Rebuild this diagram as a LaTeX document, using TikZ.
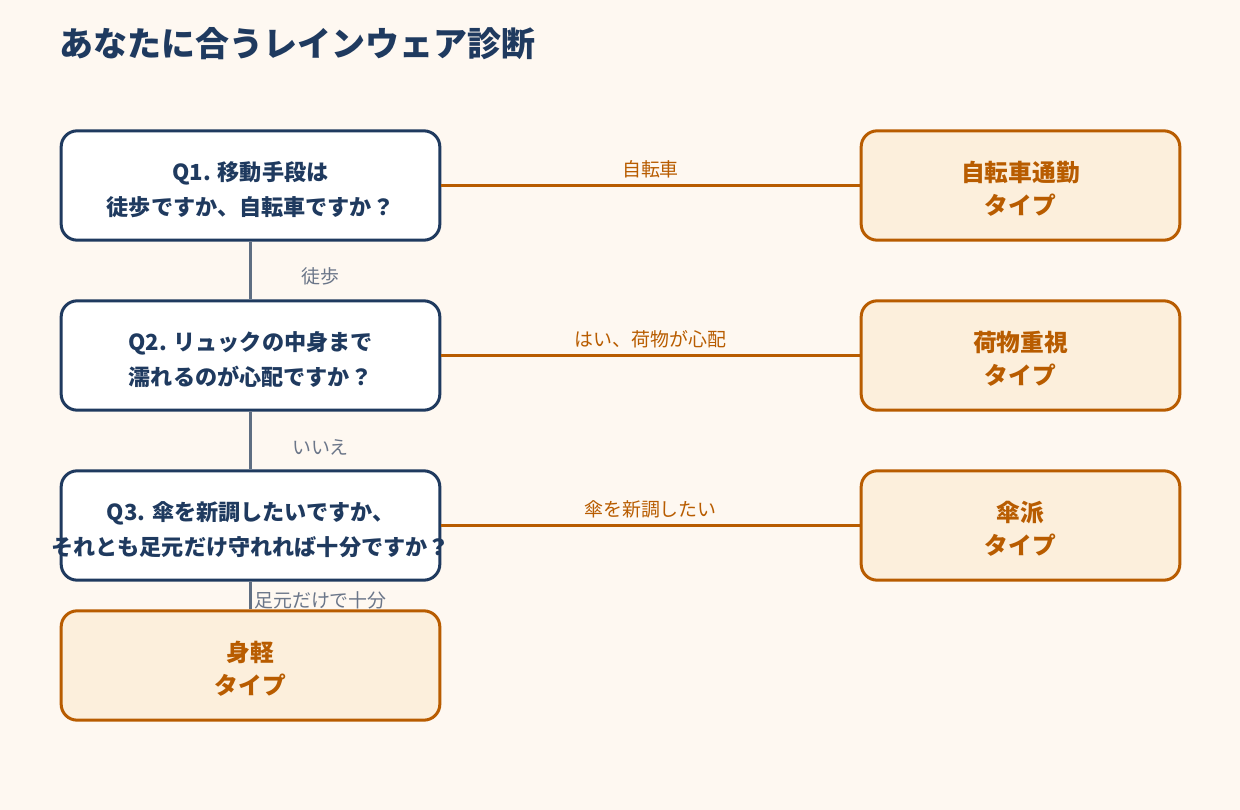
\documentclass[tikz,border=0pt]{standalone}
\usepackage{fontspec}
\setmainfont{Noto Sans CJK JP}
\usepackage{tikz}
\usetikzlibrary{positioning}
\definecolor{navy}{HTML}{1F3A5F}
\definecolor{rust}{HTML}{B85C00}
\definecolor{cream}{HTML}{FCEFDC}
\definecolor{paper}{HTML}{FEF8F1}
\definecolor{slate}{HTML}{5F6E82}
\definecolor{labelgray}{HTML}{6B7689}
% strut that lowers the two text lines a little inside a box
\newcommand{\boxlift}{\rule{0pt}{20.5pt}}
\tikzset{
    qbox/.style={draw=navy, fill=white, line width=2.25pt, rounded corners=12pt,
        minimum width=284pt, minimum height=82pt, align=center, text=navy,
        font=\bfseries\fontsize{16.6}{26.5}\selectfont},
    rbox/.style={draw=rust, fill=cream, line width=2.25pt, rounded corners=12pt,
        minimum height=82pt, align=center, text=rust,
        font=\bfseries\fontsize{17.8}{25}\selectfont},
    yesline/.style={draw=rust, line width=2.25pt},
    noline/.style={draw=slate, line width=2.25pt},
    yeslabel/.style={text=rust, font=\fontsize{14.2}{16}\selectfont},
    nolabel/.style={text=labelgray, font=\fontsize{14.2}{16}\selectfont}
}
\begin{document}
\begin{tikzpicture}[x=0.75pt, y=-0.75pt]
    % background and page size
    \fill[paper] (0,0) rectangle (1240,810);
    \useasboundingbox (0,0) rectangle (1240,810);

    % title
    \node[anchor=west, text=navy, font=\bfseries\fontsize{25.5}{30}\selectfont] (title) at (55,44) {あなたに合うレインウェア診断};

    % questions
    \node[qbox] (q1) at (250.5,185.5) {\boxlift Q1. 移動手段は\\徒歩ですか、自転車ですか？};
    \node[qbox] (q2) at (250.5,355.5) {\boxlift Q2. リュックの中身まで\\濡れるのが心配ですか？};
    \node[qbox] (q3) at (250.5,525.5) {\boxlift Q3. 傘を新調したいですか、\\\makebox[0pt]{それとも足元だけ守れれば十分ですか？}};

    % results
    \node[rbox, minimum width=284pt] (light) at (250.5,665.5) {\boxlift 身軽\\タイプ};
    \node[rbox, minimum width=239pt] (bike) at (1020.5,185.5) {\boxlift 自転車通勤\\タイプ};
    \node[rbox, minimum width=239pt] (cargo) at (1020.5,355.5) {\boxlift 荷物重視\\タイプ};
    \node[rbox, minimum width=239pt] (umbrella) at (1020.5,525.5) {\boxlift 傘派\\タイプ};

    % yes branches
    \draw[yesline] (q1) -- node[yeslabel, above, yshift=1pt] {自転車} (bike);
    \draw[yesline] (q2) -- node[yeslabel, above, yshift=1pt] {はい、荷物が心配} (cargo);
    \draw[yesline] (q3) -- node[yeslabel, above, yshift=1pt] {傘を新調したい} (umbrella);

    % no branches
    \draw[noline] (q1) -- node[nolabel, xshift=52.5pt, yshift=-4.5pt] {徒歩} (q2);
    \draw[noline] (q2) -- node[nolabel, xshift=52.5pt, yshift=-5.5pt] {いいえ} (q3);
    \draw[noline] (q3) -- node[nolabel, xshift=52.5pt, yshift=-4pt] {足元だけで十分} (light);
\end{tikzpicture}
\end{document}
